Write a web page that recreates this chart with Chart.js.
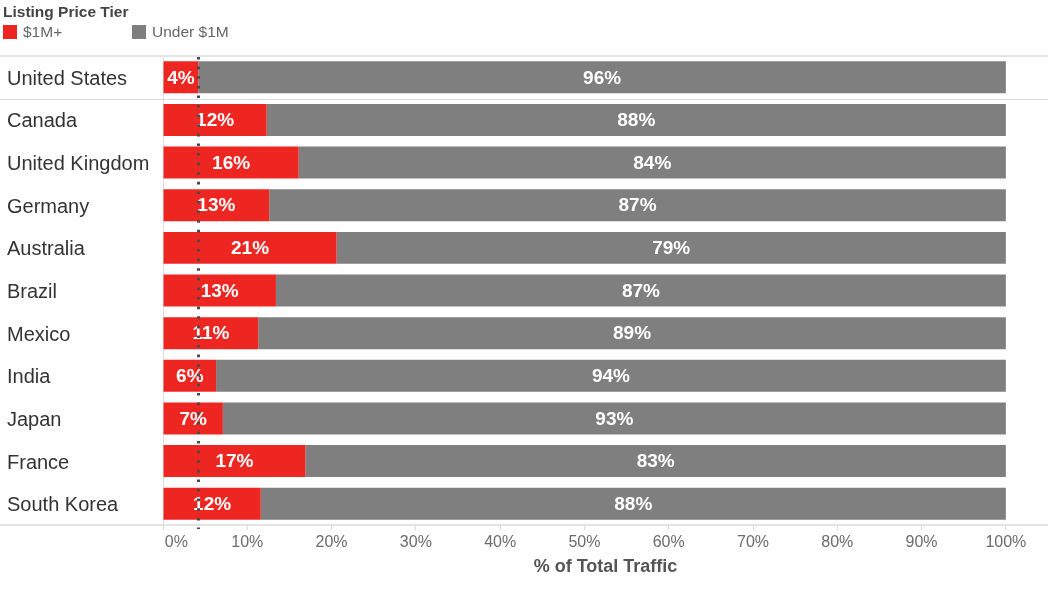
<!DOCTYPE html>
<html>
<head>
<meta charset="utf-8">
<script src="https://cdn.jsdelivr.net/npm/chart.js@4/dist/chart.umd.min.js"></script>
<style>
  body { margin: 0; background: #fff; font-family: "Liberation Sans", Arial, sans-serif; }
  #wrap { position: relative; width: 1048px; height: 600px; }
  #legend { position: absolute; left: 3px; top: 2px; }
  #legend .title { font-weight: bold; font-size: 15.5px; color: #444; line-height: 20px; }
  #legend .items { display: flex; margin-top: 1px; }
  #legend .item { display: flex; align-items: center; font-size: 15.5px; color: #666; width: 129px; }
  #legend .swatch { width: 14px; height: 14px; margin-right: 6px; }
</style>
</head>
<body>
<div id="wrap">
  <canvas id="trafficChart" width="1048" height="600"></canvas>
  <div id="legend"></div>
</div>
<script>
// Chart data
const countries = ['United States', 'Canada', 'United Kingdom', 'Germany', 'Australia', 'Brazil',
    'Mexico', 'India', 'Japan', 'France', 'South Korea'];
const seriesNames = ['$1M+', 'Under $1M'];
const premiumShare = [4.2, 12.3, 16.1, 12.6, 20.6, 13.4, 11.3, 6.3, 7.1, 16.9, 11.6];
const underShare = [95.8, 87.7, 83.9, 87.4, 79.4, 86.6, 88.7, 93.7, 92.9, 83.1, 88.4];
const xTicks = [0, 10, 20, 30, 40, 50, 60, 70, 80, 90, 100];

const RED = '#EE2622';
const GRAY = '#7F7F7F';

Chart.defaults.font.family = '"Liberation Sans", Arial, sans-serif';

// Legend in html
const legendEl = document.getElementById('legend');
legendEl.innerHTML = '<div class="title">Listing Price Tier</div><div class="items">' +
    seriesNames.map((name, i) =>
        '<div class="item"><span class="swatch" style="background:' + [RED, GRAY][i] + '"></span>' + name + '</div>'
    ).join('') + '</div>';

// Percent labels centred in each segment
const segmentLabels = {
    id: 'segmentLabels',
    afterDatasetsDraw(chart) {
        const ctx = chart.ctx;
        ctx.save();
        ctx.fillStyle = '#fff';
        ctx.font = 'bold 19px "Liberation Sans", Arial, sans-serif';
        ctx.textAlign = 'center';
        ctx.textBaseline = 'middle';
        chart.data.datasets.forEach((ds, i) => {
            chart.getDatasetMeta(i).data.forEach((bar, j) => {
                const p = bar.getProps(['x', 'y', 'base'], true);
                ctx.fillText(Math.round(ds.data[j]) + '%', (p.x + p.base) / 2, p.y + 1);
            });
        });
        ctx.restore();
    }
};

// Row separators and dotted reference line at the US value
const frameLines = {
    id: 'frameLines',
    afterDraw(chart) {
        const ctx = chart.ctx;
        const area = chart.chartArea;
        const y = chart.scales.y;
        const x = chart.scales.x;
        ctx.save();
        ctx.strokeStyle = '#e3e3e3';
        ctx.lineWidth = 2;
        [area.top, area.bottom].forEach(py => {
            ctx.beginPath();
            ctx.moveTo(0, py);
            ctx.lineTo(chart.width, py);
            ctx.stroke();
        });
        const sep = (y.getPixelForValue(0) + y.getPixelForValue(1)) / 2;
        ctx.lineWidth = 1;
        ctx.strokeStyle = '#dcdcdc';
        ctx.beginPath();
        ctx.moveTo(0, Math.round(sep) + 0.5);
        ctx.lineTo(chart.width, Math.round(sep) + 0.5);
        ctx.stroke();

        const refX = Math.round(x.getPixelForValue(premiumShare[0])) + 0.5;
        ctx.strokeStyle = '#4a4a4a';
        ctx.lineWidth = 3;
        ctx.setLineDash([2.6, 7]);
        ctx.beginPath();
        ctx.moveTo(refX, area.top + 1);
        ctx.lineTo(refX, area.bottom + 4);
        ctx.stroke();
        ctx.restore();
    }
};

new Chart(document.getElementById('trafficChart'), {
    type: 'bar',
    data: {
        labels: countries,
        datasets: [{
            label: seriesNames[0],
            data: premiumShare,
            backgroundColor: RED
        }, {
            label: seriesNames[1],
            data: underShare,
            backgroundColor: GRAY
        }]
    },
    options: {
        indexAxis: 'y',
        responsive: false,
        animation: false,
        layout: {
            padding: { left: 7, top: 56, right: 0, bottom: 0 }
        },
        datasets: {
            bar: {
                categoryPercentage: 1,
                barPercentage: 0.75,
                borderWidth: 0
            }
        },
        scales: {
            x: {
                stacked: true,
                min: 0,
                max: 105,
                afterBuildTicks(scale) {
                    scale.ticks = xTicks.map(v => ({ value: v }));
                },
                afterFit(scale) {
                    scale.height = 75;
                },
                grid: {
                    drawOnChartArea: false,
                    drawTicks: true,
                    tickLength: 5,
                    color: '#d9d9d9'
                },
                border: { display: false },
                ticks: {
                    color: '#6b6b6b',
                    font: { size: 16 },
                    padding: 3,
                    maxRotation: 0,
                    callback: v => (v === 0 ? '      0%' : v + '%')
                },
                title: {
                    display: true,
                    text: '% of Total Traffic',
                    color: '#555',
                    font: { size: 18, weight: 'bold' },
                    padding: { top: 0, bottom: 22 }
                }
            },
            y: {
                stacked: true,
                afterFit(scale) {
                    scale.width = 156;
                },
                grid: {
                    drawOnChartArea: false,
                    drawTicks: false
                },
                border: { display: true, color: '#dcdcdc', width: 1 },
                ticks: {
                    crossAlign: 'far',
                    color: '#333',
                    font: { size: 20 },
                    padding: 0,
                    labelOffset: 2
                }
            }
        },
        plugins: {
            legend: { display: false },
            tooltip: { enabled: false }
        }
    },
    plugins: [segmentLabels, frameLines]
});
</script>
</body>
</html>
